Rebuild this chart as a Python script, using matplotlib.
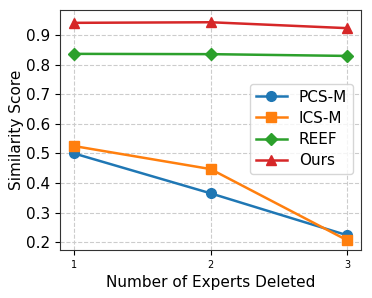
import matplotlib
matplotlib.use("Agg")
import matplotlib.pyplot as plt

# experts deleted
x = [1, 2, 3]

pcs_m = [0.500, 0.365, 0.223]
ics_m = [0.525, 0.447, 0.206]
reef = [0.837, 0.836, 0.830]
ours = [0.942, 0.944, 0.924]

fig, ax = plt.subplots(figsize=(3.72, 2.98), dpi=100)

ax.plot(x, pcs_m, marker="o", color="#1f77b4", lw=1.8, ms=7, label="PCS-M")
ax.plot(x, ics_m, marker="s", color="#ff7f0e", lw=1.8, ms=7, label="ICS-M")
ax.plot(x, reef, marker="D", color="#2ca02c", lw=1.8, ms=6.5, label="REEF")
ax.plot(x, ours, marker="^", color="#d62728", lw=1.8, ms=7, label="Ours")

ax.set_xlim(0.9, 3.1)
ax.set_ylim(0.173, 0.985)
ax.set_xticks(x)
ax.set_yticks([0.2, 0.3, 0.4, 0.5, 0.6, 0.7, 0.8, 0.9])
ax.tick_params(axis="x", labelsize=7)
ax.tick_params(axis="y", labelsize=11)
ax.set_xlabel("Number of Experts Deleted", fontsize=11)
ax.set_ylabel("Similarity Score", fontsize=11, labelpad=2)
ax.grid(True, linestyle="--", color="#cccccc", lw=0.8)
for s in ax.spines.values():
    s.set_color("#333333")
ax.legend(fontsize=11, loc="center right", bbox_to_anchor=(1.0, 0.505),
          handlelength=2.0, labelspacing=0.4)

fig.subplots_adjust(left=0.162, right=0.970, top=0.966, bottom=0.161)
fig.savefig("out.png", dpi=100)
